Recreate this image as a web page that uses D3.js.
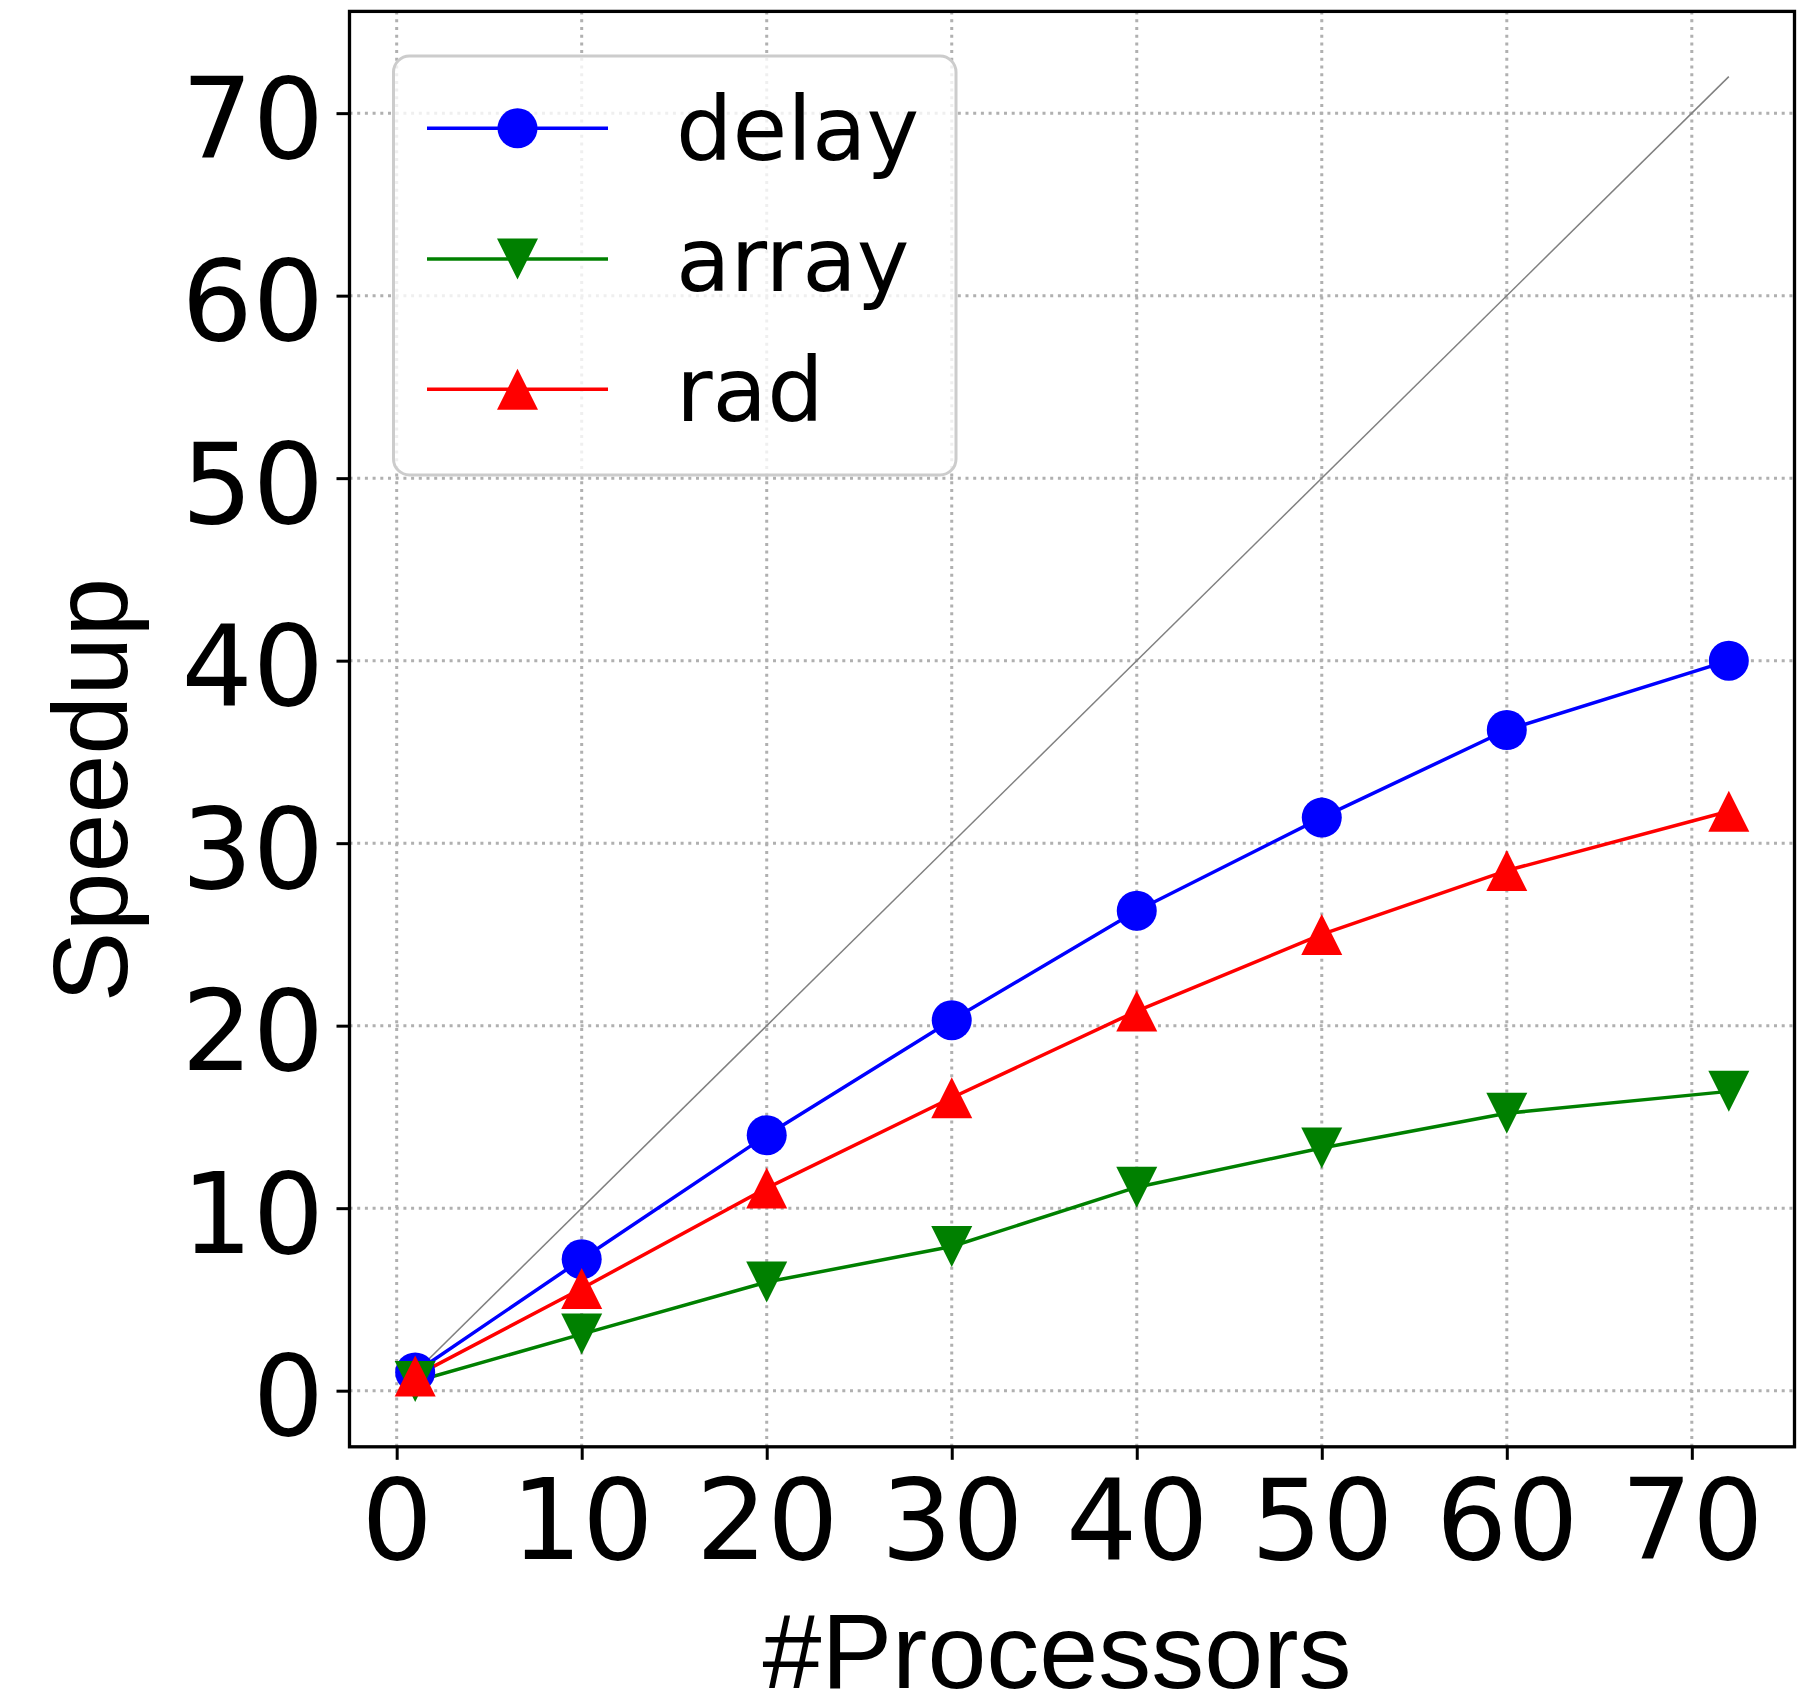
<!DOCTYPE html>
<html>
<head>
<meta charset="utf-8">
<script src="https://cdn.jsdelivr.net/npm/d3@7"></script>
<style>
  body { margin: 0; background: #fff; }
  svg { display: block; }
</style>
</head>
<body>
<div id="vis"></div>
<script>
// data
var procs = [1, 10, 20, 30, 40, 50, 60, 72];
var delay = [1.0, 7.2, 14.0, 20.3, 26.3, 31.4, 36.2, 40.0];
var array = [0.5, 3.1, 5.95, 7.9, 11.15, 13.3, 15.2, 16.4];
var rad = [0.8, 5.6, 11.1, 16.05, 20.8, 25.0, 28.5, 31.75];
var idealX = [1, 72];
var xTicks = [0, 10, 20, 30, 40, 50, 60, 70];
var yTicks = [0, 10, 20, 30, 40, 50, 60, 70];
var names = ["delay", "array", "rad"];

// SVG geometry
var width = 1808;
var height = 1695;
var plot = { left: 349.5, right: 1794.5, top: 11.4, bottom: 1446.8 };

var x = d3.scaleLinear().domain([-2.55, 75.55]).range([plot.left, plot.right]);
var y = d3.scaleLinear().domain([-3.075, 75.575]).range([plot.bottom, plot.top]);

var svg = d3.select('#vis')
  .append('svg')
  .attr('width', width)
  .attr('height', height);

svg.append('defs').append('clipPath')
  .attr('id', 'clip')
  .append('rect')
  .attr('x', plot.left).attr('y', plot.top)
  .attr('width', plot.right - plot.left)
  .attr('height', plot.bottom - plot.top);

// grid
var grid = svg.append('g')
  .attr('stroke', '#b0b0b0')
  .attr('stroke-width', 3)
  .attr('stroke-dasharray', '3 4.7');

grid.selectAll('.gx').data(xTicks).enter().append('line')
  .attr('x1', function(d) { return x(d); })
  .attr('x2', function(d) { return x(d); })
  .attr('y1', plot.bottom).attr('y2', plot.top);

grid.selectAll('.gy').data(yTicks).enter().append('line')
  .attr('y1', function(d) { return y(d); })
  .attr('y2', function(d) { return y(d); })
  .attr('x1', plot.left).attr('x2', plot.right);

// series
var series = [
  { name: names[0], values: delay, color: 'blue', marker: 'circle' },
  { name: names[1], values: array, color: 'green', marker: 'down' },
  { name: names[2], values: rad, color: 'red', marker: 'up' }
];

var line = d3.line()
  .x(function(d) { return x(d[0]); })
  .y(function(d) { return y(d[1]); });

var plotArea = svg.append('g').attr('clip-path', 'url(#clip)');

plotArea.append('path')
  .datum(idealX.map(function(v) { return [v, v]; }))
  .attr('fill', 'none')
  .attr('stroke', '#808080')
  .attr('stroke-width', 1.5)
  .attr('d', line);

var ms = 41;
function marker(sel, type, color) {
  if (type === 'circle') {
    sel.append('circle').attr('r', ms / 2 - 0.5).attr('fill', color);
  } else {
    var h = ms / 2;
    var pts = type === 'up'
      ? [[0, -h], [-h, h], [h, h]]
      : [[0, h], [-h, -h], [h, -h]];
    sel.append('path')
      .attr('d', 'M' + pts.join('L') + 'Z')
      .attr('fill', color);
  }
}

series.forEach(function(s) {
  var pts = procs.map(function(p, i) { return [p, s.values[i]]; });
  plotArea.append('path')
    .datum(pts)
    .attr('fill', 'none')
    .attr('stroke', s.color)
    .attr('stroke-width', 3.5)
    .attr('stroke-linejoin', 'round')
    .attr('d', line);
  svg.append('g').selectAll('g').data(pts).enter().append('g')
    .attr('transform', function(d) { return 'translate(' + x(d[0]) + ',' + y(d[1]) + ')'; })
    .each(function() { marker(d3.select(this), s.marker, s.color); });
});

// axes
var xAxis = svg.append('g')
  .attr('transform', 'translate(0,' + plot.bottom + ')')
  .call(d3.axisBottom(x).tickValues(xTicks).tickSize(13).tickPadding(0).tickFormat(d3.format('d')));
xAxis.select('.domain').remove();
xAxis.selectAll('.tick line').attr('stroke', '#000').attr('stroke-width', 3);
xAxis.selectAll('.tick text')
  .attr('font-family', 'DejaVu Sans')
  .attr('font-size', 112)
  .attr('fill', '#000')
  .attr('dy', null)
  .attr('y', 1559 - plot.bottom);

var yAxis = svg.append('g')
  .attr('transform', 'translate(' + plot.left + ',0)')
  .call(d3.axisLeft(y).tickValues(yTicks).tickSize(13).tickPadding(0).tickFormat(d3.format('d')));
yAxis.select('.domain').remove();
yAxis.selectAll('.tick line').attr('stroke', '#000').attr('stroke-width', 3);
yAxis.selectAll('.tick text')
  .attr('font-family', 'DejaVu Sans')
  .attr('font-size', 112)
  .attr('fill', '#000')
  .attr('dy', null)
  .attr('x', 324 - plot.left)
  .attr('y', 44);

svg.append('rect')
  .attr('x', plot.left).attr('y', plot.top)
  .attr('width', plot.right - plot.left)
  .attr('height', plot.bottom - plot.top)
  .attr('fill', 'none')
  .attr('stroke', '#000')
  .attr('stroke-width', 3.3);

// axis labels
svg.append('text')
  .attr('x', 1057).attr('y', 1688)
  .attr('text-anchor', 'middle')
  .attr('font-family', 'Liberation Sans')
  .attr('font-size', 106)
  .text('#Processors');

svg.append('text')
  .attr('transform', 'translate(127,790) rotate(-90)')
  .attr('text-anchor', 'middle')
  .attr('font-family', 'Liberation Sans')
  .attr('font-size', 106)
  .text('Speedup');

// legend
var legend = svg.append('g');
legend.append('rect')
  .attr('x', 393.5).attr('y', 56)
  .attr('width', 956 - 393.5).attr('height', 475 - 56)
  .attr('rx', 16)
  .attr('fill', 'rgba(255,255,255,0.8)')
  .attr('stroke', '#cccccc')
  .attr('stroke-width', 3);

var rowY = [128.3, 259, 389.3];
series.forEach(function(s, i) {
  var row = legend.append('g').attr('transform', 'translate(0,' + rowY[i] + ')');
  row.append('line')
    .attr('x1', 427).attr('x2', 608)
    .attr('stroke', s.color).attr('stroke-width', 3.5);
  marker(row.append('g').attr('transform', 'translate(517.5,0)'), s.marker, s.color);
  row.append('text')
    .attr('x', 676).attr('y', 31.7)
    .attr('font-family', 'DejaVu Sans')
    .attr('font-size', 89)
    .text(s.name);
});
</script>
</body>
</html>
